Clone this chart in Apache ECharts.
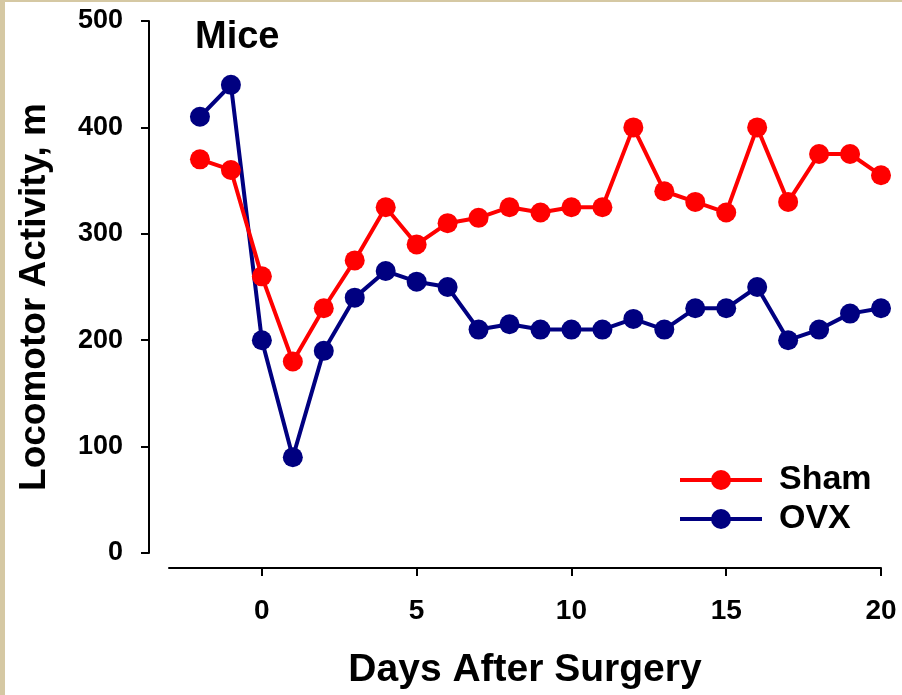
<!DOCTYPE html>
<html>
<head>
<meta charset="utf-8">
<script src="https://cdn.jsdelivr.net/npm/echarts@6/dist/echarts.min.js"></script>
<style>
  html, body { margin: 0; padding: 0; background: #ffffff; }
  #chart { width: 902px; height: 695px; }
</style>
</head>
<body>
<div id="chart"></div>
<script>
// Days relative to surgery
const days = [-2, -1, 0, 1, 2, 3, 4, 5, 6, 7, 8, 9, 10, 11, 12, 13, 14, 15, 16, 17, 18, 19, 20];
// Locomotor activity (m)
const sham = [370, 360, 260, 180, 230, 275, 325, 290, 310, 315, 325, 320, 325, 325, 400, 340, 330, 320, 400, 330, 375, 375, 355];
const ovx  = [410, 440, 200, 90, 190, 240, 265, 255, 250, 210, 215, 210, 210, 210, 220, 210, 230, 230, 250, 200, 210, 225, 230];
const xTicks = [0, 5, 10, 15, 20];

const FONT = 'Liberation Sans, Arial, sans-serif';
const pairs = vals => days.map((d, i) => [d, vals[i]]);

const chart = echarts.init(document.getElementById('chart'), null, { renderer: 'canvas' });
chart.setOption({
  backgroundColor: '#ffffff',
  animation: false,
  title: {
    text: 'Mice',
    left: 190, top: 14,
    textStyle: { fontFamily: FONT, fontWeight: 'bold', fontSize: 38, color: '#000' }
  },
  legend: {
    orient: 'vertical',
    left: 673, top: 458,
    itemWidth: 82, itemHeight: 25, itemGap: 5,
    data: ['Sham', 'OVX'],
    lineStyle: { width: 4 },
    textStyle: { fontFamily: FONT, fontWeight: 'bold', fontSize: 34, color: '#000', padding: [0, 0, 0, 12] }
  },
  grid: { left: 169, right: 21, top: 21, bottom: 141, containLabel: false },
  xAxis: {
    type: 'value', min: -3, max: 20, offset: 15,
    name: 'Days After Surgery', nameLocation: 'middle', nameGap: 83,
    nameTextStyle: { fontFamily: FONT, fontWeight: 'bold', fontSize: 39, color: '#000' },
    axisLine: { show: true, onZero: false, lineStyle: { color: '#000', width: 2 } },
    axisTick: { show: true, length: 8, lineStyle: { color: '#000', width: 2 }, customValues: xTicks },
    axisLabel: { customValues: xTicks, margin: 29, fontFamily: FONT, fontWeight: 'bold', fontSize: 28, color: '#000' },
    splitLine: { show: false }
  },
  yAxis: {
    type: 'value', min: 0, max: 500, interval: 100, offset: 20,
    name: 'Locomotor Activity, m', nameLocation: 'middle', nameGap: 96, nameRotate: 90,
    nameTextStyle: { fontFamily: FONT, fontWeight: 'bold', fontSize: 37, color: '#000', padding: [0, 20, 0, 0] },
    axisLine: { show: true, onZero: false, lineStyle: { color: '#000', width: 2 } },
    axisTick: { show: true, length: 8, lineStyle: { color: '#000', width: 2 } },
    axisLabel: { margin: 26, fontFamily: FONT, fontWeight: 'bold', fontSize: 27, color: '#000' },
    splitLine: { show: false }
  },
  graphic: [
    { type: 'rect', left: 0, top: 0, shape: { width: 5, height: 695 }, style: { fill: '#d5c8a3' }, silent: true },
    { type: 'rect', left: 0, top: 0, shape: { width: 902, height: 2 }, style: { fill: '#d5c8a3' }, silent: true }
  ],
  series: [
    {
      name: 'OVX', type: 'line', data: pairs(ovx),
      symbol: 'circle', symbolSize: 20,
      lineStyle: { color: '#000080', width: 4 },
      itemStyle: { color: '#000080' },
      z: 2
    },
    {
      name: 'Sham', type: 'line', data: pairs(sham),
      symbol: 'circle', symbolSize: 20,
      lineStyle: { color: '#ff0000', width: 4 },
      itemStyle: { color: '#ff0000' },
      z: 3
    }
  ]
});
</script>
</body>
</html>
